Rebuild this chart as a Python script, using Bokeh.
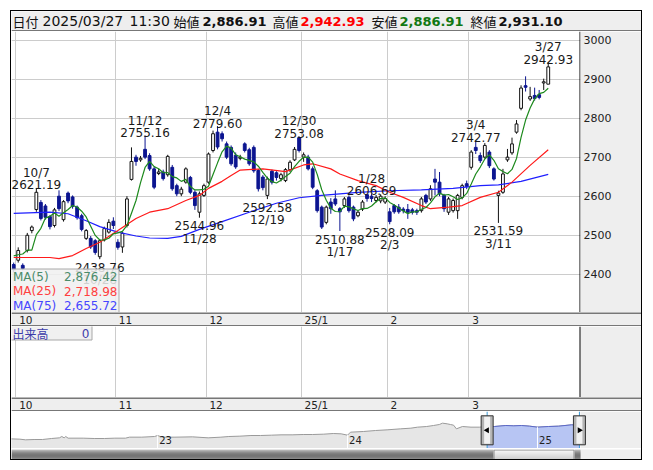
import math
import numpy as np
import pandas as pd
from bokeh.plotting import figure
from bokeh.models import Range1d, LinearAxis, FixedTicker, ColumnDataSource, Span, Grid
from bokeh.layouts import column
from bokeh.embed import file_html
from bokeh.resources import INLINE
from bokeh.core.properties import value

# ---------------- data ----------------
dates = [
    "2024-09-30",
    "2024-10-01", "2024-10-02", "2024-10-03", "2024-10-04", "2024-10-07", "2024-10-08", "2024-10-09",
    "2024-10-10", "2024-10-11", "2024-10-15", "2024-10-16", "2024-10-17", "2024-10-18", "2024-10-21",
    "2024-10-22", "2024-10-23", "2024-10-24", "2024-10-25", "2024-10-28", "2024-10-29", "2024-10-30",
    "2024-10-31",
    "2024-11-01", "2024-11-05", "2024-11-06", "2024-11-07", "2024-11-08", "2024-11-11", "2024-11-12",
    "2024-11-13", "2024-11-14", "2024-11-15", "2024-11-18", "2024-11-19", "2024-11-20", "2024-11-21",
    "2024-11-22", "2024-11-25", "2024-11-26", "2024-11-27", "2024-11-28", "2024-11-29",
    "2024-12-02", "2024-12-03", "2024-12-04", "2024-12-05", "2024-12-06", "2024-12-09", "2024-12-10",
    "2024-12-11", "2024-12-12", "2024-12-13", "2024-12-16", "2024-12-17", "2024-12-18", "2024-12-19",
    "2024-12-20", "2024-12-23", "2024-12-24", "2024-12-25", "2024-12-26", "2024-12-27", "2024-12-30",
    "2025-01-06", "2025-01-07", "2025-01-08", "2025-01-09", "2025-01-10", "2025-01-14", "2025-01-15",
    "2025-01-16", "2025-01-17", "2025-01-20", "2025-01-21", "2025-01-22", "2025-01-23", "2025-01-24",
    "2025-01-27", "2025-01-28", "2025-01-29", "2025-01-30", "2025-01-31",
    "2025-02-03", "2025-02-04", "2025-02-05", "2025-02-06", "2025-02-07", "2025-02-10", "2025-02-12",
    "2025-02-13", "2025-02-14", "2025-02-17", "2025-02-18", "2025-02-19", "2025-02-20", "2025-02-21",
    "2025-02-25", "2025-02-26", "2025-02-27", "2025-02-28",
    "2025-03-03", "2025-03-04", "2025-03-05", "2025-03-06", "2025-03-07", "2025-03-10", "2025-03-11",
    "2025-03-12", "2025-03-13", "2025-03-14", "2025-03-17", "2025-03-18", "2025-03-19", "2025-03-21",
    "2025-03-24", "2025-03-25", "2025-03-26", "2025-03-27",
]
opens = [
    2425,
    2436, 2423, 2461, 2512, 2566, 2584, 2575, 2548, 2525, 2600, 2540, 2608, 2598, 2572,
    2550, 2492, 2492, 2486, 2445, 2488, 2508, 2536,
    2482, 2470, 2525, 2643, 2700, 2693, 2720, 2704, 2670, 2658, 2662, 2655, 2674, 2627,
    2606, 2636, 2648, 2610, 2559, 2602,
    2636, 2717, 2764, 2760, 2734, 2725, 2705, 2697, 2734, 2719, 2725, 2666, 2649, 2602,
    2664, 2660, 2645, 2640, 2668, 2693, 2750,
    2700, 2700, 2670, 2614, 2572, 2533, 2585, 2593, 2568, 2576, 2597, 2572, 2550, 2567,
    2604, 2600, 2589, 2588, 2585,
    2560, 2576, 2572, 2567, 2566, 2565, 2563, 2563, 2602, 2593, 2644, 2636, 2602, 2559,
    2563, 2563, 2597, 2632,
    2674, 2725, 2704, 2700, 2713, 2670, 2602, 2610, 2693, 2711, 2764, 2825, 2883, 2849,
    2858, 2860, 2890, 2886.91,
]
highs = [
    2430,
    2469, 2428, 2506, 2525, 2621.19, 2590, 2580, 2552, 2570, 2615, 2590, 2612, 2602, 2576,
    2555, 2516, 2498, 2490, 2490, 2522, 2541, 2546,
    2490, 2508, 2600, 2725, 2706, 2703, 2755.16, 2710, 2675, 2670, 2668, 2706, 2680, 2632,
    2624, 2674, 2652, 2615, 2612, 2632,
    2712, 2768, 2779.60, 2766, 2740, 2730, 2712, 2706, 2738, 2724, 2730, 2670, 2654, 2650,
    2668, 2664, 2660, 2672, 2692, 2726, 2753.08,
    2712, 2706, 2676, 2618, 2576, 2576, 2595, 2615, 2572, 2598, 2602, 2576, 2564, 2590,
    2606, 2606.69, 2603, 2605, 2600,
    2570, 2580, 2580, 2572, 2580, 2570, 2568, 2598, 2606, 2628, 2670, 2662, 2606, 2598,
    2594, 2606, 2632, 2640,
    2718, 2742.77, 2712, 2736, 2718, 2674, 2614, 2670, 2721, 2750, 2795, 2884, 2907, 2880,
    2878, 2872, 2901, 2942.93,
]
lows = [
    2405,
    2430, 2410, 2456, 2505, 2560, 2538, 2540, 2515, 2520, 2562, 2535, 2582, 2568, 2540,
    2510, 2488, 2465, 2450, 2438.76, 2484, 2504, 2516,
    2463, 2455, 2520, 2640, 2678, 2688, 2695, 2665, 2618, 2654, 2640, 2650, 2614, 2600,
    2600, 2632, 2605, 2565, 2544.96, 2598,
    2632, 2712, 2720, 2740, 2695, 2678, 2670, 2692, 2712, 2678, 2660, 2612, 2615, 2592.58,
    2630, 2640, 2638, 2636, 2662, 2690, 2712,
    2688, 2666, 2618, 2558, 2516, 2528, 2555, 2575, 2510.88, 2570, 2558, 2536, 2546, 2562,
    2586, 2585, 2584, 2582, 2580,
    2528.09, 2555, 2555, 2556, 2542, 2553, 2552, 2558, 2580, 2588, 2602, 2600, 2560, 2552,
    2558, 2542, 2592, 2618,
    2668, 2708, 2685, 2696, 2672, 2640, 2531.59, 2606, 2688, 2706, 2760, 2820, 2868, 2844,
    2845, 2848, 2872, 2886.91,
]
closes = [
    2412,
    2461, 2415, 2500, 2521, 2610, 2543, 2546, 2522, 2565, 2568, 2586, 2588, 2574, 2545,
    2515, 2512, 2470, 2456, 2486, 2517, 2533, 2525,
    2469, 2505, 2593, 2689, 2689, 2697, 2700, 2670, 2623, 2662, 2645, 2702, 2619, 2606,
    2618, 2670, 2610, 2576, 2606, 2627,
    2708, 2760, 2726, 2747, 2700, 2683, 2675, 2700, 2717, 2683, 2665, 2619, 2622, 2644,
    2636, 2648, 2655, 2668, 2687, 2720, 2717,
    2706, 2670, 2623, 2563, 2521, 2572, 2568, 2580, 2560, 2593, 2563, 2542, 2559, 2585,
    2594, 2594, 2597, 2600, 2594,
    2535, 2560, 2560, 2563, 2559, 2559, 2559, 2593, 2585, 2619, 2636, 2606, 2568, 2593,
    2589, 2602, 2627, 2625,
    2713, 2717, 2691, 2730, 2678, 2644, 2608, 2657, 2700, 2734, 2785, 2877, 2879, 2855,
    2850, 2853, 2893, 2931.10,
]
header_time = "11:30"

# MA(5) for the first four bars (earlier closes are off the chart)
ma5_head = [2447, 2450, 2452, 2462]
# MA(25) and MA(75) at bar positions
ma25_idx = [0, 8, 10, 13, 16, 19, 23, 27, 30, 34, 38, 41, 43, 46, 48, 50, 55, 60, 64, 66,
            70, 72, 76, 80, 83, 86, 90, 92, 96, 99, 103, 107, 110, 114, 118]
ma25_val = [2443, 2443, 2440, 2448, 2466, 2482, 2512, 2543, 2559, 2568, 2589, 2602, 2620, 2638,
            2653, 2667, 2670, 2663, 2680, 2683, 2670, 2657, 2640, 2627, 2610, 2597, 2576, 2568,
            2572, 2576, 2597, 2610, 2636, 2679, 2718.98]
ma75_idx = [0, 8, 12, 16, 19, 23, 27, 30, 34, 37, 41, 46, 52, 58, 63, 68, 76, 83, 90, 97,
            103, 107, 112, 118]
ma75_val = [2556, 2559, 2555, 2537, 2522, 2508, 2498, 2493, 2492, 2497, 2515, 2535, 2559, 2582,
            2596, 2602, 2610, 2614, 2616, 2620, 2627, 2629, 2638, 2655.72]

extreme_dates = ["2024-10-07", "2024-10-28", "2024-11-12", "2024-11-28", "2024-12-04",
                 "2024-12-19", "2024-12-30", "2025-01-17", "2025-01-28", "2025-02-03",
                 "2025-03-04", "2025-03-11", "2025-03-27"]
extreme_kind = ["high", "low", "high", "low", "high", "low", "high", "low", "high", "low",
                "high", "low", "high"]

month_labels = ["10", "11", "12", "25/1", "2", "3"]
price_ticks = [2400, 2500, 2600, 2700, 2800, 2900, 3000]
volume_value = 0

# navigator: months since 2022-04, level
nav_month = [-0.29, 0.3, 0.66, 1.2, 1.73, 2.3, 2.8, 2.95, 3.1, 3.2, 3.35, 4.3, 5.0, 5.65, 6.3,
             6.97, 7.23, 8.0, 8.81, 9.0, 9.3, 10.1, 11.2, 12.2, 13.0, 13.5, 14.2, 14.9, 15.5,
             16.2, 16.8, 17.5, 18.2, 18.8, 19.5, 20.1, 20.6, 21.0, 21.19, 22.0, 22.77, 23.5,
             24.35, 25.0, 25.42, 26.0, 26.43, 26.8, 27.0, 27.3, 27.5, 27.7, 27.88, 28.26, 28.8,
             29.34, 29.82, 30.28, 31.0, 31.5, 31.99, 32.5, 33.0, 33.7, 34.33, 35.15, 35.65]
nav_value = [1166, 1124, 1040, 1082, 1082, 1208, 1292, 1460, 1292, 1460, 1250, 1250, 1208, 1208,
             1250, 1250, 1376, 1376, 1460, 1586, 1376, 1376, 1418, 1292, 1376, 1460, 1502, 1586,
             1586, 1628, 1670, 1670, 1712, 1712, 1754, 1838, 1796, 1628, 2006, 2090, 2216, 2300,
             2426, 2510, 2636, 2720, 2846, 2972, 3140, 3056, 2972, 2888, 2426, 2720, 2636, 2636,
             2720, 2720, 2846, 2804, 2846, 2762, 2636, 2720, 2762, 2930, 2888]
nav_years = ["23", "24", "25"]
nav_year_month = [9.0, 21.0, 33.0]
sel_start, sel_end = 29.82, 35.65

# ---------------- styling / layout constants ----------------
FONT = "DejaVu Sans"
JP = "Noto Sans CJK JP"
UP_FILL, UP_LINE, DN = "white", "#111111", "#0c1590"
GRID = "#cccccc"
PANEL = "#eeeeee"
PX0, STEP = 13.2, 4.53          # page x of bar 0, px per bar


def idx_at(px):
    return (px - PX0) / STEP


def m_at(px):
    return -0.29 + (px - 10) / 15.83


x_lo, x_hi, x_full = idx_at(11), idx_at(580), idx_at(641)
P_TOP = 3000 + (39.5 - 31) / 0.3905
P_BOT = 3000 - (312 - 39.5) / 0.3905


def base_fig(h, xr, yr, mbr=0, **kw):
    f = figure(width=630, height=h, x_range=xr, y_range=yr, output_backend="svg",
               toolbar_location=None, x_axis_location=None, y_axis_location=None,
               min_border_left=0, min_border_right=mbr, min_border_top=0, min_border_bottom=0,
               outline_line_color=None, title=None, frame_align=False, **kw)
    f.grid.visible = False
    return f


n = len(dates)
xs = np.arange(n)
o, h, l, c = (np.array(a, dtype=float) for a in (opens, highs, lows, closes))
up = c >= o
ma5 = pd.Series(c).rolling(5).mean().to_numpy()
ma5[:4] = ma5_head

month_start = [i for i in range(1, n) if dates[i][5:7] != dates[i - 1][5:7]]
grid_x = [i - 0.5 for i in month_start]

# ---------------- header ----------------
hdr = base_fig(20, Range1d(11, 641), Range1d(31, 11), background_fill_color=PANEL)
hdr.segment(x0=[11], y0=[30.5], x1=[641], y1=[30.5], line_color="black", line_width=1)


def fmt(v):
    return f"{v:,.2f}"


hdr_items = [
    ("日付", 12, JP, "normal", "#111111", "13px"),
    (dates[-1].replace("-", "/"), 42, FONT, "normal", "#111111", "14px"),
    (header_time, 129, FONT, "normal", "#111111", "14px"),
    ("始値", 173, JP, "normal", "#111111", "13px"),
    (fmt(o[-1]), 202, FONT, "bold", "#111111", "13px"),
    ("高値", 272, JP, "normal", "#111111", "13px"),
    (fmt(h[-1]), 300, FONT, "bold", "#ff0000", "13px"),
    ("安値", 371, JP, "normal", "#111111", "13px"),
    (fmt(l[-1]), 399, FONT, "bold", "#127812", "13px"),
    ("終値", 470, JP, "normal", "#111111", "13px"),
    (fmt(c[-1]), 498, FONT, "bold", "#111111", "13px"),
]
for t, xp, fnt, sty, col, sz in hdr_items:
    hdr.text(x=[xp], y=[20.5], text=[t], text_font=value(fnt), text_font_style=sty,
             text_color=col, text_font_size=sz, text_baseline="middle", text_align="left")

# ---------------- main price panel ----------------
p = base_fig(281, Range1d(x_lo, x_hi), Range1d(P_BOT, P_TOP), mbr=61,
             background_fill_color="white", border_fill_color=PANEL)
p.add_layout(Grid(dimension=0, ticker=FixedTicker(ticks=grid_x), grid_line_color=GRID))
p.add_layout(Grid(dimension=1, ticker=FixedTicker(ticks=price_ticks), grid_line_color=GRID))
yax = LinearAxis(ticker=FixedTicker(ticks=price_ticks), axis_line_color=None,
                 major_tick_line_color=None, minor_tick_line_color=None,
                 major_tick_out=0, major_tick_in=0, minor_tick_out=0, minor_tick_in=0,
                 major_label_standoff=3, major_label_text_font=FONT,
                 major_label_text_font_size="11px", major_label_text_color="#222222")
p.add_layout(yax, "right")
p.add_layout(Span(location=idx_at(579.5), dimension="height", line_color="black", line_width=1))

src = ColumnDataSource(dict(
    x=xs, l=l, h=h, top=np.maximum(o, c), bot=np.minimum(o, c),
    fill=np.where(up, UP_FILL, DN), line=np.where(up, UP_LINE, DN)))
p.segment(x0="x", y0="l", x1="x", y1="h", line_color="line", line_width=1, source=src)
p.vbar(x="x", width=0.62, top="top", bottom="bot", fill_color="fill", line_color="line",
       line_width=1, source=src)

p.line(ma75_idx, ma75_val, line_color="#1f1fff", line_width=1.2)
p.line(ma25_idx, ma25_val, line_color="#ff1a1a", line_width=1.2)
p.line(xs, ma5, line_color="#1d8a1d", line_width=1.2)

# high / low annotations
ex_x, ex_y, ex_num, ex_date, ex_kind = [], [], [], [], []
for d, k in zip(extreme_dates, extreme_kind):
    i = dates.index(d)
    v = h[i] if k == "high" else l[i]
    ex_x.append(i); ex_y.append(v); ex_num.append(f"{v:.2f}")
    ex_date.append(f"{int(d[5:7])}/{int(d[8:10])}"); ex_kind.append(k)
for k, off_num, off_date in (("high", -3, -15), ("low", 8, 21)):
    sel = [j for j, kk in enumerate(ex_kind) if kk == k]
    s = ColumnDataSource(dict(x=[ex_x[j] for j in sel], y=[ex_y[j] for j in sel],
                              num=[ex_num[j] for j in sel], dt=[ex_date[j] for j in sel]))
    for col, off in (("num", off_num), ("dt", off_date)):
        p.text(x="x", y="y", text=col, source=s, y_offset=off, text_align="center",
               text_baseline="alphabetic", text_font=value(FONT), text_font_size="12px",
               text_color="#1a1a1a")

# MA legend box
p.extra_x_ranges = {"px": Range1d(11, 580)}
p.extra_y_ranges = {"py": Range1d(312, 31)}
p.quad(left=[10], right=[118.5], top=[268.5], bottom=[313], x_range_name="px", y_range_name="py",
       fill_color="#f0f0f0", fill_alpha=0.85, line_color="#a8a8a8", line_width=1)
leg_names = ["MA(5)", "MA(25)", "MA(75)"]
leg_vals = [ma5[-1], ma25_val[-1], ma75_val[-1]]
leg_cols = ["#4a8c6a", "#ff4040", "#4646ff"]
leg_y = [276, 290.5, 305]
for nm, vv, cl, yy in zip(leg_names, leg_vals, leg_cols, leg_y):
    p.text(x=[12.5], y=[yy], text=[nm], x_range_name="px", y_range_name="py", text_color=cl,
           text_font=value(FONT), text_font_size="12px", text_baseline="middle", text_align="left")
    p.text(x=[117], y=[yy], text=[fmt(vv)], x_range_name="px", y_range_name="py", text_color=cl,
           text_font=value(FONT), text_font_size="12px", text_baseline="middle", text_align="right")


# ---------------- date strips ----------------
def strip_fig():
    s = base_fig(14, Range1d(x_lo, x_full), Range1d(14, 0), background_fill_color=PANEL)
    s.segment(x0=[x_lo, x_lo], y0=[0.5, 13.5], x1=[x_full, x_full], y1=[0.5, 13.5],
              line_color="black", line_width=1)
    s.text(x=[g + 0.7 for g in grid_x], y=[7.5] * len(grid_x), text=month_labels,
           text_align="left", text_baseline="middle", text_font=value(FONT),
           text_font_size="10.5px", text_color="#222222")
    return s


strip1 = strip_fig()
strip2 = strip_fig()

# ---------------- volume panel ----------------
vol = base_fig(71, Range1d(x_lo, x_full), Range1d(71, 0), background_fill_color="white")
vol.add_layout(Grid(dimension=0, ticker=FixedTicker(ticks=grid_x), grid_line_color=GRID))
vol.extra_x_ranges = {"px": Range1d(11, 641)}
vol.quad(left=[580], right=[641], top=[0], bottom=[71], x_range_name="px",
         fill_color=PANEL, line_color=None)
vol.segment(x0=[579.5], y0=[0], x1=[579.5], y1=[71], x_range_name="px", line_color="black")
vol.quad(left=[10], right=[91.5], top=[-1], bottom=[13.5], x_range_name="px",
         fill_color="#f0f0f0", line_color="#a8a8a8")
vol.text(x=[12], y=[7], text=["出来高"], x_range_name="px", text_font=value(JP),
         text_font_size="12px", text_color="#3c3caa", text_baseline="middle", text_align="left")
vol.text(x=[89], y=[7], text=[str(volume_value)], x_range_name="px", text_font=value(FONT),
         text_font_size="12px", text_color="#3c3caa", text_baseline="middle", text_align="right")

# ---------------- navigator ----------------
NAV_LO, NAV_HI = -52, 4610
nav = base_fig(37, Range1d(m_at(11), m_at(641)), Range1d(NAV_LO, NAV_HI),
               background_fill_color="white")
nav.extra_x_ranges = {"px": Range1d(11, 641)}
nav.extra_y_ranges = {"py": Range1d(37, 0)}
nav.varea(x=nav_month, y1=[NAV_LO] * len(nav_month), y2=nav_value, fill_color="#e6e6e6")
nav.line(nav_month, nav_value, line_color="#9a9a9a", line_width=1)
sel_i = [i for i, m in enumerate(nav_month) if m >= sel_start]
nav.varea(x=[nav_month[i] for i in sel_i], y1=[NAV_LO] * len(sel_i),
          y2=[nav_value[i] for i in sel_i], fill_color="#b7c5f3")
nav.line([nav_month[i] for i in sel_i], [nav_value[i] for i in sel_i],
         line_color="#5a67c8", line_width=1)
yr_vals = [nav_value[nav_month.index(m)] for m in nav_year_month]
nav.segment(x0=nav_year_month, y0=[NAV_LO] * 3, x1=nav_year_month, y1=yr_vals,
            line_color="white", line_width=1)
nav.text(x=[m + 0.1 for m in nav_year_month], y=[28.5] * 3, y_range_name="py", text=nav_years,
         text_font=value(FONT), text_font_size="10px", text_color="#222222",
         text_align="left", text_baseline="middle")
nav.quad(left=[580], right=[641], top=[0], bottom=[37], x_range_name="px", y_range_name="py",
         fill_color=PANEL, line_color=None)
nav.segment(x0=[sel_start, sel_end], y0=[0, 0], x1=[sel_start, sel_end], y1=[37, 37],
            y_range_name="py", line_color="#3a9ad9", line_width=1)
nav.rect(x=[sel_start, sel_end], y=[18.8, 18.8], width=12, height=29, width_units="screen",
         height_units="screen", y_range_name="py", fill_color="#b4b4b4", line_color="#333333")
nav.rect(x=[sel_start, sel_end], y=[18.8, 18.8], width=6, height=27, width_units="screen",
         height_units="screen", y_range_name="py", fill_color="#f2f2f2", line_color=None)
nav.scatter(x=[sel_start, sel_end], y=[18.8, 18.8], y_range_name="py", marker="triangle",
            size=6, angle=[math.pi / 2, -math.pi / 2], fill_color="black", line_color=None)

# ---------------- scroll bar ----------------
scr = base_fig(11, Range1d(11, 641), Range1d(11, 0), background_fill_color=PANEL)
track_cols = ["#b0b0b0", "#959595", "#7b7b7b", "#666666", "#575757", "#4e4e4e",
              "#4b4b4b", "#515151", "#5d5d5d", "#6f6f6f", "#858585"]
thumb_cols = ["#fbfbfb", "#f6f6f6", "#f0f0f0", "#eaeaea", "#e4e4e4", "#dedede",
              "#d8d8d8", "#d2d2d2", "#cccccc", "#c6c6c6", "#c0c0c0"]
rows = list(range(11))
scr.quad(left=[11] * 11, right=[493] * 11, top=rows, bottom=[r + 1 for r in rows],
         fill_color=track_cols, line_color=None)
scr.quad(left=[574] * 11, right=[580] * 11, top=rows, bottom=[r + 1 for r in rows],
         fill_color=track_cols, line_color=None)
scr.quad(left=[493] * 11, right=[574] * 11, top=rows, bottom=[r + 1 for r in rows],
         fill_color=thumb_cols, line_color=None)
scr.quad(left=[493.5], right=[573.5], top=[0.5], bottom=[10.5], fill_color=None,
         line_color="#8a8a8a")

layout = column(hdr, p, strip1, vol, strip2, nav, scr, spacing=0, width=630, height=448,
                margin=(11, 0, 0, 11), styles={"outline": "1px solid black"})

open("out.html", "w").write(file_html(layout, INLINE))
